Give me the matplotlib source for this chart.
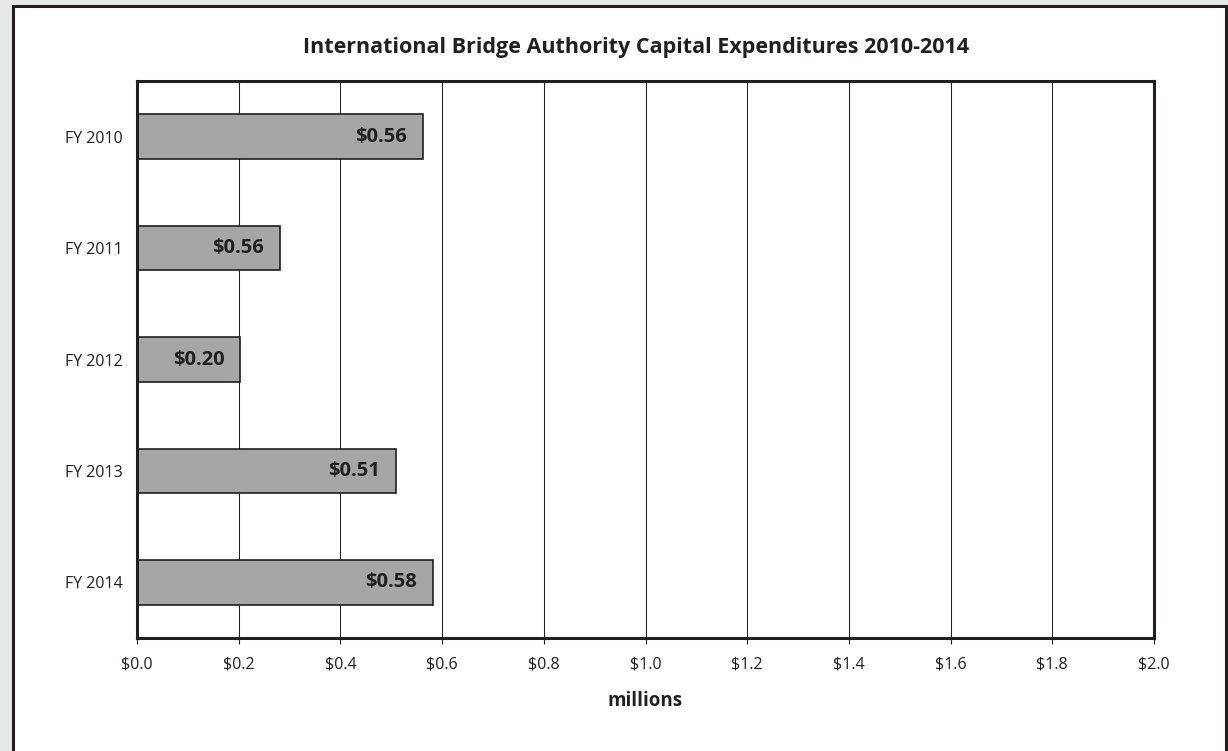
import matplotlib
matplotlib.use("Agg")
import matplotlib.pyplot as plt
from matplotlib.patches import Rectangle

plt.rcParams['font.family'] = ['Open Sans', 'DejaVu Sans']

years = ["FY 2010", "FY 2011", "FY 2012", "FY 2013", "FY 2014"]
spend = [0.562, 0.281, 0.203, 0.509, 0.582]   # $ millions
value_labels = ["$0.56", "$0.56", "$0.20", "$0.51", "$0.58"]
x_ticks = [0.0, 0.2, 0.4, 0.6, 0.8, 1.0, 1.2, 1.4, 1.6, 1.8, 2.0]

ink = "#231f20"

fig = plt.figure(figsize=(12.28, 7.51), dpi=100)
fig.patch.set_facecolor("#e6e7e8")

# white framed panel behind the chart
fig.patches.append(Rectangle((12.5 / 1228, -0.05), 1213.5 / 1228, 1.05 - 5.5 / 751,
                             transform=fig.transFigure, facecolor="white",
                             edgecolor=ink, linewidth=2.2, zorder=-1))

ax = fig.add_axes([137 / 1228, 113 / 751, 1017 / 1228, 557 / 751])
ax.set_zorder(1)
ax.set_facecolor("white")

pos = range(len(years))
bars = ax.barh(pos, spend, height=0.4, color="#a6a6a6", edgecolor=ink,
               linewidth=1.2, zorder=3)

for b, txt in zip(bars, value_labels):
    ax.annotate(txt, (b.get_width(), b.get_y() + b.get_height() / 2),
                xytext=(-11.5, 0), textcoords="offset points",
                ha="right", va="center", fontsize=14.5, fontweight="bold",
                color=ink, zorder=4)

ax.set_xlim(0, 2.0)
ax.set_ylim(4.5, -0.5)
ax.set_xticks(x_ticks)
ax.set_xticklabels(["${:.1f}".format(t) for t in x_ticks])
ax.set_yticks(list(pos))
ax.set_yticklabels(years)
ax.tick_params(axis="x", length=4, width=0.8, color=ink, pad=9.5,
               labelsize=11.5, labelcolor=ink)
ax.tick_params(axis="y", length=0, pad=10, labelsize=11.5, labelcolor=ink)

ax.grid(axis="x", color=ink, linewidth=0.75, zorder=1)
ax.set_axisbelow(True)
for sp in ax.spines.values():
    sp.set_linewidth(2.2)
    sp.set_color(ink)
    sp.set_zorder(5)

ax.set_xlabel("millions", fontsize=13.5, fontweight="bold", color=ink, labelpad=13)
fig.text(636 / 1228, 1 - 47.5 / 751,
         "International Bridge Authority Capital Expenditures 2010-2014",
         ha="center", va="center", fontsize=15.5, fontweight="bold", color=ink)

fig.savefig("out.png", dpi=100, facecolor=fig.get_facecolor())
